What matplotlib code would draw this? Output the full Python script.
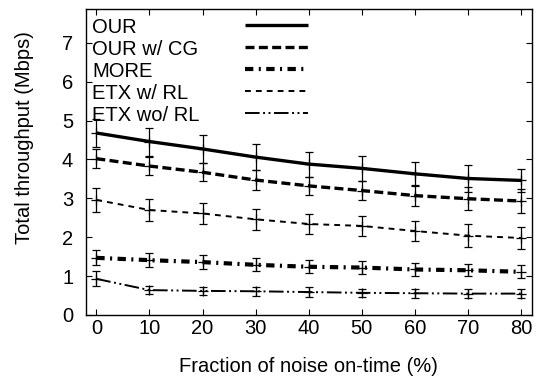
import matplotlib
matplotlib.use("Agg")
import matplotlib.pyplot as plt
from matplotlib.lines import Line2D

plt.rcParams['font.family'] = ['Liberation Sans', 'DejaVu Sans']

noise = [0, 10, 20, 30, 40, 50, 60, 70, 80]

our = [4.68, 4.46, 4.27, 4.06, 3.88, 3.77, 3.63, 3.51, 3.46]
our_err = [0.37, 0.36, 0.35, 0.33, 0.32, 0.33, 0.31, 0.34, 0.29]

our_cg = [4.02, 3.83, 3.67, 3.47, 3.32, 3.20, 3.07, 2.99, 2.93]
our_cg_err = [0.25, 0.23, 0.23, 0.25, 0.24, 0.24, 0.27, 0.29, 0.30]

more = [1.47, 1.41, 1.36, 1.29, 1.24, 1.22, 1.17, 1.15, 1.11]
more_err = [0.19, 0.18, 0.17, 0.17, 0.17, 0.16, 0.17, 0.16, 0.17]

etx_rl = [2.96, 2.70, 2.61, 2.46, 2.34, 2.29, 2.16, 2.04, 1.98]
etx_rl_err = [0.30, 0.29, 0.28, 0.27, 0.26, 0.26, 0.26, 0.29, 0.29]

etx_norl = [0.93, 0.64, 0.62, 0.61, 0.59, 0.57, 0.56, 0.55, 0.55]
etx_norl_err = [0.19, 0.11, 0.11, 0.11, 0.12, 0.11, 0.12, 0.11, 0.12]

labels = ['OUR', 'OUR w/ CG', 'MORE', 'ETX w/ RL', 'ETX wo/ RL']
xticks = [0, 10, 20, 30, 40, 50, 60, 70, 80]
yticks = [0, 1, 2, 3, 4, 5, 6, 7]

series = [our, our_cg, more, etx_rl, etx_norl]
errors = [our_err, our_cg_err, more_err, etx_rl_err, etx_norl_err]
styles = [
    dict(linestyle='-', linewidth=2.4),
    dict(linestyle=(0, (2.7, 1.3)), linewidth=2.4),
    dict(linestyle=(0, (2.0, 1.3, 0.5, 1.3)), linewidth=3.0),
    dict(linestyle=(0, (3.0, 2.6)), linewidth=1.4),
    dict(linestyle=(0, (7.5, 1.8, 1.0, 1.8, 1.0, 1.8)), linewidth=1.4),
]

FS = 14.5
W, H = 537, 383
ax_l, ax_r, ax_t, ax_b = 85.7, 531.7, 9.3, 315.0

fig = plt.figure(figsize=(W / 100, H / 100), dpi=100)
ax = fig.add_axes([ax_l / W, 1 - ax_b / H, (ax_r - ax_l) / W, (ax_b - ax_t) / H])

for y, e, st in zip(series, errors, styles):
    ax.errorbar(noise, y, yerr=e, fmt='none', ecolor='black',
                elinewidth=0.9, capsize=2.6, capthick=0.9, zorder=3)
    ax.plot(noise, y, linestyle='none', marker='+', markersize=7,
            markeredgewidth=0.9, color='black', zorder=3)
    ax.plot(noise, y, color='black', zorder=2,
            solid_capstyle='butt', dash_capstyle='butt', **st)

ax.set_xlim(-2, 82)
ax.set_ylim(0, 7.86)
ax.set_xticks(xticks)
ax.set_yticks(yticks)
ax.tick_params(direction='in', length=4, width=0.8, top=True, right=True,
               labelsize=FS)
ax.tick_params(axis='x', pad=3)
ax.tick_params(axis='y', pad=9)
for s in ax.spines.values():
    s.set_linewidth(1.0)

ax.set_xlabel('Fraction of noise on-time (%)', fontsize=FS)
ax.set_ylabel('Total throughput (Mbps)', fontsize=FS)
ax.xaxis.set_label_coords((308.0 - ax_l) / (ax_r - ax_l), (ax_b - 357.5) / (ax_b - ax_t))
ax.yaxis.set_label_coords((34.5 - ax_l) / (ax_r - ax_l), (ax_b - 137.5) / (ax_b - ax_t))

# gnuplot-style key: labels left-aligned, samples in a column on the right
def fx(px):
    return (px - ax_l) / (ax_r - ax_l)

def fy(py):
    return (ax_b - py) / (ax_b - ax_t)

row_step = 22.0
for i, (lab, st) in enumerate(zip(labels, styles)):
    base = 32.7 + i * row_step
    mid = 25.3 + i * row_step
    ax.text(fx(92.0), fy(base), lab, fontsize=FS, ha='left', va='baseline',
            transform=ax.transAxes)
    ax.add_line(Line2D([fx(245.0), fx(308.0)], [fy(mid), fy(mid)],
                       color='black', transform=ax.transAxes,
                       solid_capstyle='butt', dash_capstyle='butt', **st))

fig.savefig('out.png', dpi=100)
